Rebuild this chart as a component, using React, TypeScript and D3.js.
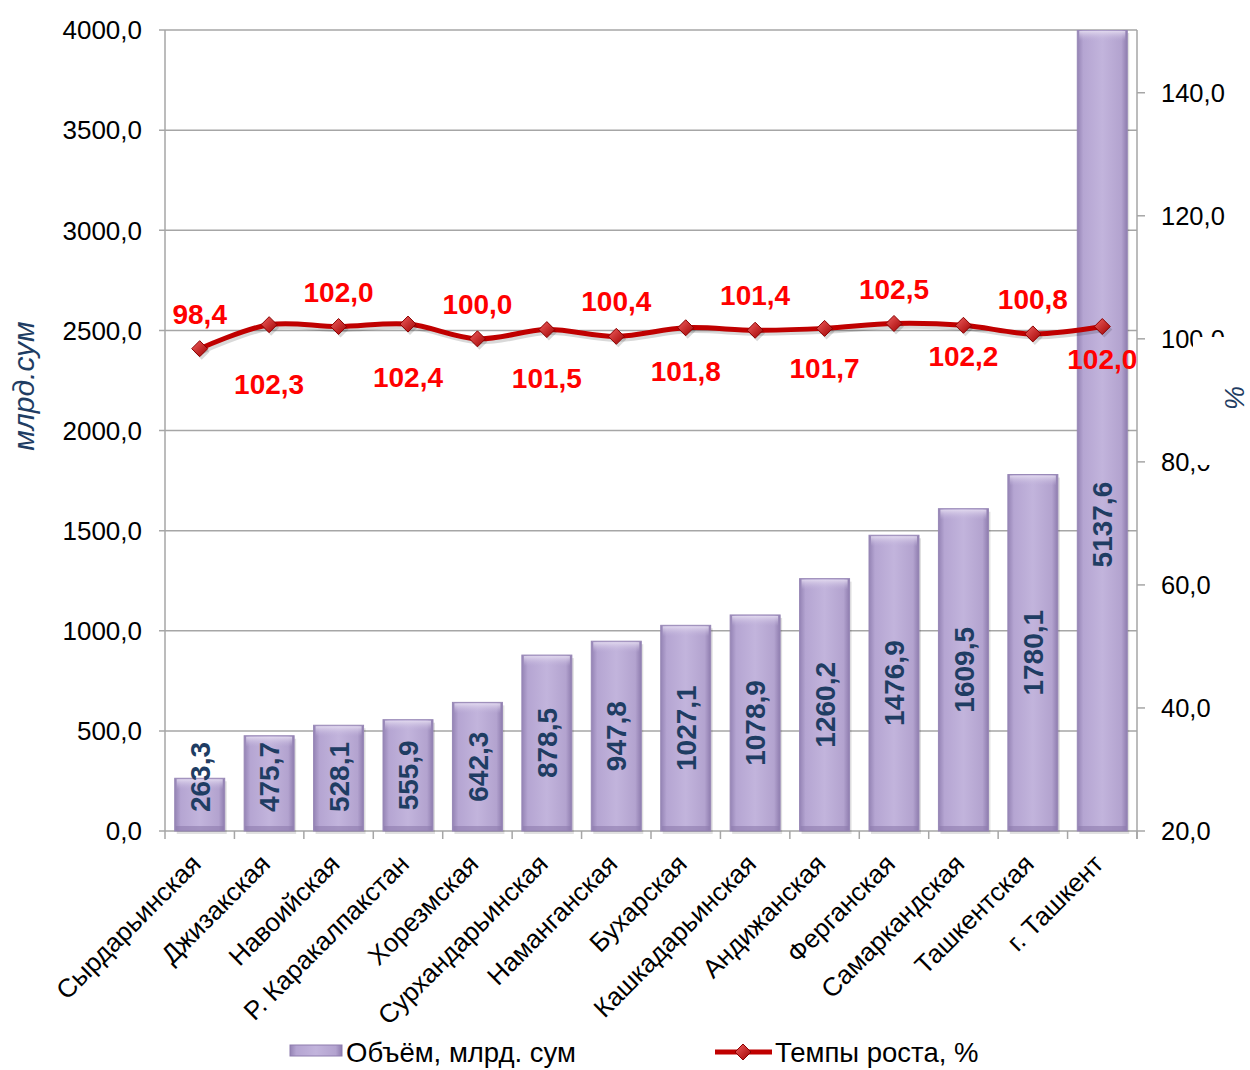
import * as d3 from 'd3'

// regions, sorted by volume
const regions = [
  'Сырдарьинская', 'Джизакская', 'Навоийская', 'Р. Каракалпакстан', 'Хорезмская',
  'Сурхандарьинская', 'Наманганская', 'Бухарская', 'Кашкадарьинская', 'Андижанская',
  'Ферганская', 'Самаркандская', 'Ташкентская', 'г. Ташкент',
]
// Объём, млрд. сум
const volume = [263.3, 475.7, 528.1, 555.9, 642.3, 878.5, 947.8, 1027.1, 1078.9, 1260.2, 1476.9, 1609.5, 1780.1, 5137.6]
// Темпы роста, %
const growth = [98.4, 102.3, 102.0, 102.4, 100.0, 101.5, 100.4, 101.8, 101.4, 101.7, 102.5, 102.2, 100.8, 102.0]

const leftTicks = [0, 500, 1000, 1500, 2000, 2500, 3000, 3500, 4000]
const rightTicks = [20, 40, 60, 80, 100, 120, 140]

// label offsets for the growth line (px, negative = above)
const growthLabelDy = [-35, 59, -35, 53, -35, 48, -35, 43, -35, 40, -35, 31, -35, 32]

const fmt = (v: number) => v.toFixed(1).replace('.', ',')
const FONT = 'Arial, "Liberation Sans", sans-serif'
const NAVY = '#1F3D63'

export default function App() {
  const width = 1250
  const height = 1070
  const m = { left: 165, right: 1137, top: 30, bottom: 831 }

  const x = d3.scaleBand<string>().domain(regions).range([m.left, m.right]).paddingInner(0.28).paddingOuter(0.14)
  const step = x.step()
  const yL = d3.scaleLinear().domain([0, 4000]).range([m.bottom, m.top])
  const yR = d3.scaleLinear().domain([20, 150.2]).range([m.bottom, m.top])

  const cx = (r: string) => x(r)! + x.bandwidth() / 2
  const line = d3
    .line<number>()
    .x((_, i) => cx(regions[i]))
    .y(d => yR(d))
    .curve(d3.curveCatmullRom.alpha(0.5))

  const diamond = (px: number, py: number, s: number) =>
    `M${px},${py - s}L${px + s},${py}L${px},${py + s}L${px - s},${py}Z`

  return (
    <svg width={width} height={height} style={{ position: 'absolute', left: 0, top: 0, background: '#fff' }} fontFamily={FONT}>
      <defs>
        <linearGradient id="barGrad" x1="0" x2="1" y1="0" y2="0">
          <stop offset="0" stopColor="#9483B4" />
          <stop offset="0.12" stopColor="#B5A5D2" />
          <stop offset="0.5" stopColor="#C2B4DC" />
          <stop offset="0.88" stopColor="#B3A3CF" />
          <stop offset="1" stopColor="#8E7CAE" />
        </linearGradient>
        <linearGradient id="barTop" x1="0" x2="0" y1="0" y2="1">
          <stop offset="0" stopColor="#E4DCF0" stopOpacity="0.9" />
          <stop offset="1" stopColor="#C2B4DC" stopOpacity="0" />
        </linearGradient>
        <linearGradient id="markGrad" x1="0" x2="1" y1="0" y2="1">
          <stop offset="0" stopColor="#F06060" />
          <stop offset="1" stopColor="#A00000" />
        </linearGradient>
        <clipPath id="plotClip">
          <rect x={m.left} y={m.top} width={m.right - m.left} height={m.bottom - m.top + 10} />
        </clipPath>
      </defs>

      {/* gridlines */}
      {leftTicks.map(t => (
        <line key={t} x1={m.left - 6} x2={m.right} y1={yL(t)} y2={yL(t)} stroke="#A6A6A6" strokeWidth={1.5} />
      ))}
      <line x1={m.left} x2={m.left} y1={m.top} y2={m.bottom} stroke="#A6A6A6" strokeWidth={1.5} />
      <line x1={m.right} x2={m.right} y1={m.top} y2={m.bottom + 8} stroke="#A6A6A6" strokeWidth={1.5} />

      {/* category ticks */}
      {d3.range(regions.length + 1).map(i => (
        <line key={i} x1={m.left + i * step} x2={m.left + i * step} y1={m.bottom} y2={m.bottom + 8} stroke="#A6A6A6" strokeWidth={1.5} />
      ))}

      {/* right ticks */}
      {rightTicks.map(t => (
        <line key={t} x1={m.right} x2={m.right + 8} y1={yR(t)} y2={yR(t)} stroke="#A6A6A6" strokeWidth={1.5} />
      ))}

      {/* bars */}
      <g clipPath="url(#plotClip)">
        {regions.map((r, i) => {
          const v = Math.min(volume[i], 4000)
          const top = yL(v)
          const h = m.bottom - top
          return (
            <g key={r}>
              <rect x={x(r)! + 2} y={top + 3} width={x.bandwidth()} height={h} fill="#000" opacity={0.12} />
              <rect x={x(r)} y={top} width={x.bandwidth()} height={h} fill="url(#barGrad)" stroke="#9888B6" strokeWidth={1} />
              <rect x={x(r)! + 2} y={top + 1} width={x.bandwidth() - 4} height={Math.min(10, h)} fill="url(#barTop)" />
              <rect x={x(r)! + 1} y={m.bottom - 5} width={x.bandwidth() - 2} height={5} fill="#8E7CAE" opacity={0.6} />
            </g>
          )
        })}
      </g>

      {/* bar labels */}
      {regions.map((r, i) => {
        const v = volume[i]
        const center = v > 4000 ? yL(1530) : Math.min((yL(v) + m.bottom) / 2, m.bottom - 54)
        return (
          <text key={r} transform={`translate(${cx(r)},${center}) rotate(-90)`} textAnchor="middle" dy="0.36em"
            fontSize={28} fontWeight="bold" fill={NAVY}>
            {fmt(v)}
          </text>
        )
      })}

      {/* growth line */}
      <path d={line(growth)!} fill="none" stroke="#000" strokeOpacity={0.15} strokeWidth={5} transform="translate(2,3)" />
      <path d={line(growth)!} fill="none" stroke="#C00000" strokeWidth={5} strokeLinejoin="round" />
      {growth.map((g, i) => (
        <g key={i}>
          <path d={diamond(cx(regions[i]) + 2, yR(g) + 3, 8)} fill="#000" opacity={0.15} />
          <path d={diamond(cx(regions[i]), yR(g), 8)} fill="url(#markGrad)" stroke="#8B0000" strokeWidth={1} />
        </g>
      ))}
      {growth.map((g, i) => (
        <text key={i} x={cx(regions[i])} y={yR(g) + growthLabelDy[i]} dy="0.36em" textAnchor="middle"
          fontSize={28} fontWeight="bold" fill="#FF0000">
          {fmt(g)}
        </text>
      ))}

      {/* left axis labels */}
      {leftTicks.map(t => (
        <text key={t} x={142} y={yL(t)} dy="0.36em" textAnchor="end" fontSize={26} fill="#000">{fmt(t)}</text>
      ))}

      {/* right axis labels */}
      {rightTicks.map(t => (
        <text key={t} x={1161} y={yR(t)} dy="0.36em" textAnchor="start" fontSize={25.5} fill="#000">{fmt(t)}</text>
      ))}

      {/* axis titles */}
      <text transform="translate(34,386) rotate(-90)" textAnchor="middle" fontSize={30} fontStyle="italic" fill={NAVY}>млрд.сум</text>
      <rect x={1193} y={337} width={57} height={128} fill="#fff" />
      <text transform="translate(1244,398) rotate(-90)" textAnchor="middle" fontSize={27} fontStyle="italic" fill={NAVY}>%</text>

      {/* category labels */}
      {regions.map(r => (
        <text key={r} transform={`translate(${cx(r) - 4},${m.bottom + 28}) rotate(-45)`} textAnchor="end" dy="0.36em"
          fontSize={26} fill="#000">
          {r}
        </text>
      ))}

      {/* legend */}
      <rect x={290} y={1045} width={52} height={11} fill="url(#barGrad)" stroke="#8E7CAE" />
      <text x={346} y={1062} fontSize={27.5} fill="#000">Объём, млрд. сум</text>
      <line x1={715} x2={772} y1={1052} y2={1052} stroke="#C00000" strokeWidth={5} />
      <path d={diamond(743, 1052, 8)} fill="url(#markGrad)" stroke="#8B0000" strokeWidth={1} />
      <text x={775} y={1062} fontSize={27.5} fill="#000">Темпы роста, %</text>
    </svg>
  )
}
